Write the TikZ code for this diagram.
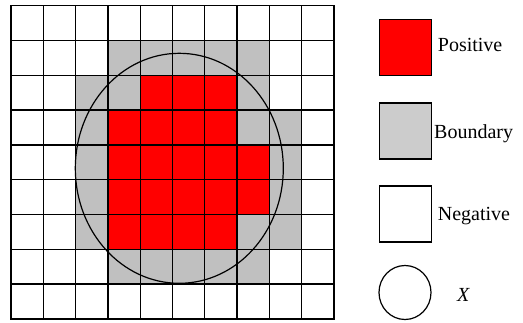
\documentclass[tikz,border=0pt]{standalone}
\usepackage{fontspec}
\setmainfont{Liberation Serif}
\usetikzlibrary{shapes.geometric}
\definecolor{bgray}{RGB}{192,192,192}
\definecolor{lgray}{RGB}{204,204,204}
\definecolor{pred}{RGB}{255,0,0}
\begin{document}
\begin{tikzpicture}[x=1pt,y=-1pt,
  gridline/.style={line width=1.3pt, line cap=rect},
  legbox/.style={draw, line width=1.2pt, minimum width=52pt, minimum height=56pt, inner sep=0pt},
  leglabel/.style={font=\fontsize{20}{20}\selectfont, anchor=base west, inner sep=0pt}]
\useasboundingbox (0,0) rectangle (523,322);
\fill[white] (0,0) rectangle (523,322);
\def\cw{32.3}\def\ch{34.8}
% boundary cells
\foreach \c/\r in {3/1,4/1,5/1,6/1,7/1,
  2/2,3/2,7/2,
  2/3,7/3,8/3,
  2/4,8/4,
  2/5,8/5,
  2/6,7/6,8/6,
  3/7,4/7,5/7,6/7,7/7}
  \fill[bgray] ({11+\c*\cw},{5.7+\r*\ch}) rectangle ++(\cw,\ch);
% positive cells
\foreach \c/\r in {4/2,5/2,6/2,
  3/3,4/3,5/3,6/3,
  3/4,4/4,5/4,6/4,7/4,
  3/5,4/5,5/5,6/5,7/5,
  3/6,4/6,5/6,6/6}
  \fill[pred] ({11+\c*\cw},{5.7+\r*\ch}) rectangle ++(\cw,\ch);
% grid lines
\foreach \i in {0,...,10}
  \draw[gridline] ({11+\i*\cw},5.7) -- ({11+\i*\cw},{5.7+9*\ch});
\foreach \j in {0,...,9}
  \draw[gridline] (11,{5.7+\j*\ch}) -- ({11+10*\cw},{5.7+\j*\ch});
% set X
\draw[line width=1.2pt] (179.3,168.3) ellipse [x radius=104, y radius=115];
% legend
\node[legbox, fill=pred] (lpos) at (405.5,47.6) {};
\node[legbox, fill=lgray] (lbnd) at (405.5,131) {};
\node[legbox, fill=white] (lneg) at (405.5,214) {};
\node[draw, line width=1.2pt, ellipse, minimum width=52pt, minimum height=54pt, inner sep=0pt] (lset) at (405,292.5) {};
\node[leglabel] (tpos) at (437.7,51.7) {Positive};
\node[leglabel] (tbnd) at (434,138.3) {Boundary};
\node[leglabel] (tneg) at (437.7,220.7) {Negative};
\node[leglabel] (tset) at (457,301.7) {\textit{X}};
\end{tikzpicture}
\end{document}
